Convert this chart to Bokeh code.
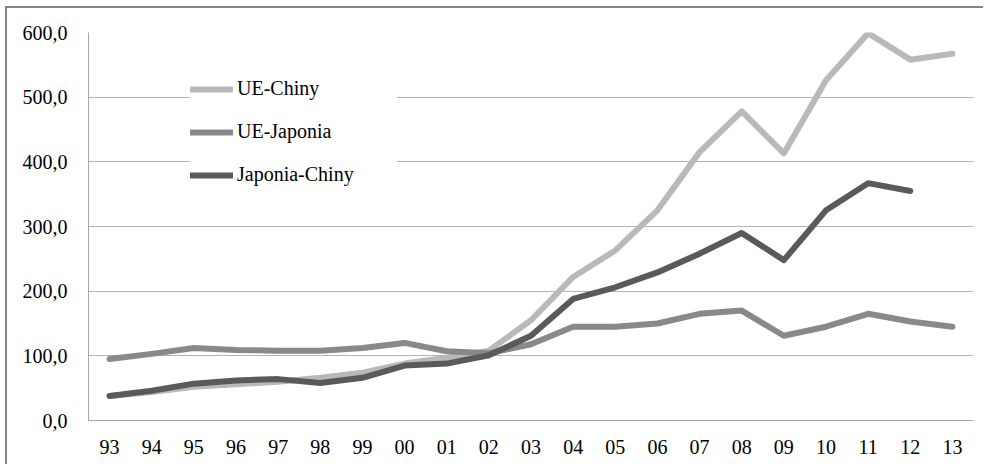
from bokeh.plotting import figure
from bokeh.models import (FactorRange, Range1d, FixedTicker, CustomJSTickFormatter,
                          Legend, LegendItem)
from bokeh.embed import file_html
from bokeh.resources import INLINE
import numpy as np

years = ["93", "94", "95", "96", "97", "98", "99", "00", "01", "02", "03",
         "04", "05", "06", "07", "08", "09", "10", "11", "12", "13"]
ue_chiny = [38, 44, 52, 56, 60, 66, 74, 88, 97, 108, 155,
            222, 263, 325, 415, 478, 413, 526, 599, 558, 567]
ue_japonia = [95, 103, 112, 109, 108, 108, 112, 120, 107, 104, 118,
              145, 145, 150, 165, 170, 131, 145, 165, 153, 145]
japonia_chiny = [38, 46, 57, 62, 64, 58, 66, 85, 88, 101, 131,
                 188, 206, 229, 258, 290, 248, 325, 367, 355, np.nan]
series_names = ["UE-Chiny", "UE-Japonia", "Japonia-Chiny"]
y_ticks = [0, 100, 200, 300, 400, 500, 600]

FONT = "Times New Roman"
W, H = 978, 458

p = figure(width=W, height=H, x_range=FactorRange(*years), y_range=Range1d(0, 600),
           output_backend="svg", toolbar_location=None,
           min_border_left=81, min_border_right=12, min_border_top=24, min_border_bottom=46)
p.outline_line_color = None
p.background_fill_color = "white"
p.border_fill_color = "white"
p.styles = {"border-top": "2px solid #858585", "border-left": "2px solid #858585",
            "margin-left": "5px", "margin-top": "6px"}

# axes
p.yaxis.ticker = FixedTicker(ticks=y_ticks)
p.yaxis.formatter = CustomJSTickFormatter(code="return tick.toFixed(1).replace('.', ',');")
for ax in (p.xaxis[0], p.yaxis[0]):
    ax.axis_line_color = "#a6a6a6"
    ax.axis_line_width = 1
    ax.major_tick_line_color = None
    ax.minor_tick_line_color = None
    ax.major_label_text_font = FONT
    ax.major_label_text_font_size = "20px"
    ax.major_label_text_color = "black"
p.yaxis.major_label_standoff = 15
p.xaxis.major_label_standoff = 13
p.xgrid.grid_line_color = None
p.ygrid.grid_line_color = "#b4b4b4"
p.ygrid.grid_line_width = 1
p.ygrid.ticker = FixedTicker(ticks=y_ticks)

colors = ["#b9b9b9", "#898989", "#5a5a5a"]
data = [ue_chiny, ue_japonia, japonia_chiny]
renderers = []
for vals, c in zip(data, colors):
    r = p.line(years, vals, line_color=c, line_width=6, line_cap="round", line_join="round")
    renderers.append(r)

legend = Legend(items=[LegendItem(label=n, renderers=[r]) for n, r in zip(series_names, renderers)],
                location=(102, 234), orientation="vertical",
                label_text_font=FONT, label_text_font_size="20px", label_text_color="black",
                glyph_width=43, glyph_height=20, label_height=20, label_standoff=4,
                label_width=160, spacing=20, padding=30, margin=0,
                border_line_color=None, background_fill_color="white", background_fill_alpha=1.0)
p.add_layout(legend)

open("out.html", "w").write(file_html(p, INLINE))
